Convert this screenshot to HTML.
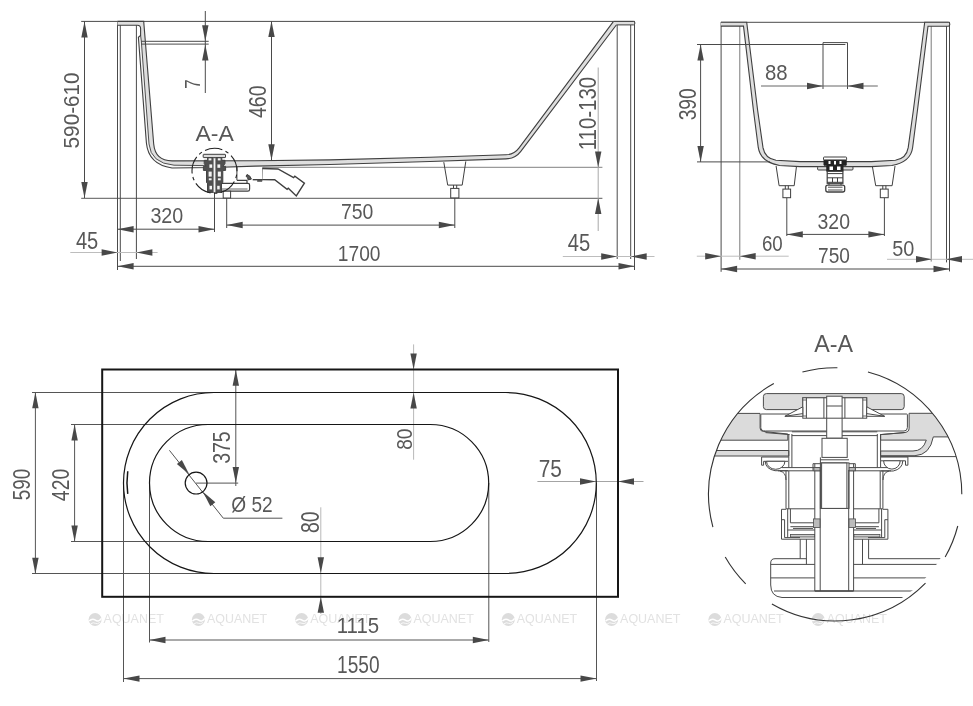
<!DOCTYPE html>
<html><head><meta charset="utf-8"><title>Bathtub drawing</title>
<style>
html,body{margin:0;padding:0;background:#fff;}
svg{display:block;filter:grayscale(1);}
text{font-family:"Liberation Sans",sans-serif;}
</style></head><body>
<svg width="973" height="706" viewBox="0 0 973 706">
<rect x="0" y="0" width="973" height="706" fill="#fff"/>
<circle cx="95.1" cy="619.5" r="6.5" fill="#dcdcdc"/>
<path d="M89.2,621.1 q3,-3.2 6.2,-0.9 t6,-1.9" stroke="#fff" stroke-width="1.5" fill="none"/>
<path d="M90.8,623.7 q2.6,-1.6 4.6,-0.4 t4.4,-0.9" stroke="#fff" stroke-width="0.8" fill="none"/>
<text transform="translate(103.60,622.77) scale(1.0183,1)" font-size="12.25" fill="#e2e2e2" >AQUANET</text>
<circle cx="198.4" cy="619.5" r="6.5" fill="#dcdcdc"/>
<path d="M192.5,621.1 q3,-3.2 6.2,-0.9 t6,-1.9" stroke="#fff" stroke-width="1.5" fill="none"/>
<path d="M194.1,623.7 q2.6,-1.6 4.6,-0.4 t4.4,-0.9" stroke="#fff" stroke-width="0.8" fill="none"/>
<text transform="translate(206.90,622.77) scale(1.0183,1)" font-size="12.25" fill="#e2e2e2" >AQUANET</text>
<circle cx="301.7" cy="619.5" r="6.5" fill="#dcdcdc"/>
<path d="M295.8,621.1 q3,-3.2 6.2,-0.9 t6,-1.9" stroke="#fff" stroke-width="1.5" fill="none"/>
<path d="M297.4,623.7 q2.6,-1.6 4.6,-0.4 t4.4,-0.9" stroke="#fff" stroke-width="0.8" fill="none"/>
<text transform="translate(310.20,622.77) scale(1.0183,1)" font-size="12.25" fill="#e2e2e2" >AQUANET</text>
<circle cx="405.0" cy="619.5" r="6.5" fill="#dcdcdc"/>
<path d="M399.1,621.1 q3,-3.2 6.2,-0.9 t6,-1.9" stroke="#fff" stroke-width="1.5" fill="none"/>
<path d="M400.7,623.7 q2.6,-1.6 4.6,-0.4 t4.4,-0.9" stroke="#fff" stroke-width="0.8" fill="none"/>
<text transform="translate(413.50,622.77) scale(1.0183,1)" font-size="12.25" fill="#e2e2e2" >AQUANET</text>
<circle cx="508.3" cy="619.5" r="6.5" fill="#dcdcdc"/>
<path d="M502.4,621.1 q3,-3.2 6.2,-0.9 t6,-1.9" stroke="#fff" stroke-width="1.5" fill="none"/>
<path d="M504.0,623.7 q2.6,-1.6 4.6,-0.4 t4.4,-0.9" stroke="#fff" stroke-width="0.8" fill="none"/>
<text transform="translate(516.80,622.77) scale(1.0183,1)" font-size="12.25" fill="#e2e2e2" >AQUANET</text>
<circle cx="611.6" cy="619.5" r="6.5" fill="#dcdcdc"/>
<path d="M605.7,621.1 q3,-3.2 6.2,-0.9 t6,-1.9" stroke="#fff" stroke-width="1.5" fill="none"/>
<path d="M607.3,623.7 q2.6,-1.6 4.6,-0.4 t4.4,-0.9" stroke="#fff" stroke-width="0.8" fill="none"/>
<text transform="translate(620.10,622.77) scale(1.0183,1)" font-size="12.25" fill="#e2e2e2" >AQUANET</text>
<circle cx="714.9" cy="619.5" r="6.5" fill="#dcdcdc"/>
<path d="M709.0,621.1 q3,-3.2 6.2,-0.9 t6,-1.9" stroke="#fff" stroke-width="1.5" fill="none"/>
<path d="M710.6,623.7 q2.6,-1.6 4.6,-0.4 t4.4,-0.9" stroke="#fff" stroke-width="0.8" fill="none"/>
<text transform="translate(723.40,622.77) scale(1.0183,1)" font-size="12.25" fill="#e2e2e2" >AQUANET</text>
<circle cx="818.2" cy="619.5" r="6.5" fill="#dcdcdc"/>
<path d="M812.3,621.1 q3,-3.2 6.2,-0.9 t6,-1.9" stroke="#fff" stroke-width="1.5" fill="none"/>
<path d="M813.9,623.7 q2.6,-1.6 4.6,-0.4 t4.4,-0.9" stroke="#fff" stroke-width="0.8" fill="none"/>
<text transform="translate(826.70,622.77) scale(1.0183,1)" font-size="12.25" fill="#e2e2e2" >AQUANET</text>
<line x1="81.20" y1="21.40" x2="634.90" y2="21.40" stroke="#4a4a4a" stroke-width="1" />
<line x1="81.20" y1="198.40" x2="602.40" y2="198.40" stroke="#7a7a7a" stroke-width="1.2" />
<line x1="263.00" y1="167.40" x2="602.40" y2="167.40" stroke="#9a9a9a" stroke-width="1.1" />
<line x1="84.50" y1="21.40" x2="84.50" y2="198.00" stroke="#4a4a4a" stroke-width="1" />
<polygon points="84.50,21.40 87.70,37.40 81.30,37.40" fill="#484848"/>
<polygon points="84.50,198.00 81.30,182.00 87.70,182.00" fill="#484848"/>
<line x1="117.50" y1="21.40" x2="117.50" y2="270.00" stroke="#4a4a4a" stroke-width="1" />
<line x1="120.30" y1="24.70" x2="120.30" y2="261.00" stroke="#4a4a4a" stroke-width="1" />
<line x1="136.40" y1="25.00" x2="136.40" y2="259.00" stroke="#4a4a4a" stroke-width="1" />
<line x1="617.20" y1="25.00" x2="617.20" y2="259.00" stroke="#4a4a4a" stroke-width="1" />
<line x1="630.70" y1="25.00" x2="630.70" y2="259.00" stroke="#4a4a4a" stroke-width="1" />
<line x1="634.50" y1="21.40" x2="634.50" y2="270.00" stroke="#4a4a4a" stroke-width="1" />
<line x1="205.30" y1="11.00" x2="205.30" y2="93.00" stroke="#4a4a4a" stroke-width="1" />
<polygon points="205.30,41.20 202.10,25.20 208.50,25.20" fill="#484848"/>
<polygon points="205.30,44.40 208.50,60.40 202.10,60.40" fill="#484848"/>
<line x1="271.50" y1="21.40" x2="271.50" y2="160.00" stroke="#4a4a4a" stroke-width="1" />
<polygon points="271.50,21.00 274.70,37.00 268.30,37.00" fill="#484848"/>
<polygon points="271.50,160.20 268.30,144.20 274.70,144.20" fill="#484848"/>
<line x1="598.20" y1="67.50" x2="598.20" y2="231.00" stroke="#a8a8a8" stroke-width="1" />
<polygon points="598.20,167.50 595.00,151.50 601.40,151.50" fill="#484848"/>
<polygon points="598.20,198.00 601.40,214.00 595.00,214.00" fill="#484848"/>
<line x1="117.60" y1="229.20" x2="214.50" y2="229.20" stroke="#4a4a4a" stroke-width="1" />
<polygon points="117.60,229.20 133.60,226.00 133.60,232.40" fill="#484848"/>
<polygon points="214.50,229.20 198.50,232.40 198.50,226.00" fill="#484848"/>
<line x1="214.50" y1="190.00" x2="214.50" y2="232.00" stroke="#4a4a4a" stroke-width="1" />
<line x1="226.70" y1="225.10" x2="454.80" y2="225.10" stroke="#6e6e6e" stroke-width="1.1" />
<polygon points="226.70,225.00 242.70,221.80 242.70,228.20" fill="#484848"/>
<polygon points="454.80,225.00 438.80,228.20 438.80,221.80" fill="#484848"/>
<line x1="226.70" y1="198.00" x2="226.70" y2="228.00" stroke="#4a4a4a" stroke-width="1" />
<line x1="454.80" y1="198.00" x2="454.80" y2="228.00" stroke="#4a4a4a" stroke-width="1" />
<line x1="70.30" y1="252.50" x2="157.60" y2="252.50" stroke="#bdbdbd" stroke-width="1" />
<polygon points="117.60,252.50 101.60,255.70 101.60,249.30" fill="#484848"/>
<polygon points="136.40,252.50 152.40,249.30 152.40,255.70" fill="#484848"/>
<line x1="117.60" y1="266.30" x2="634.50" y2="266.30" stroke="#4a4a4a" stroke-width="1" />
<polygon points="117.60,266.30 133.60,263.10 133.60,269.50" fill="#484848"/>
<polygon points="634.50,266.30 618.50,269.50 618.50,263.10" fill="#484848"/>
<line x1="562.80" y1="256.50" x2="654.50" y2="256.50" stroke="#bdbdbd" stroke-width="1" />
<polygon points="617.20,256.50 601.20,259.70 601.20,253.30" fill="#484848"/>
<polygon points="630.70,256.50 646.70,253.30 646.70,259.70" fill="#484848"/>
<path d="M613.5,21.4 H633.5 Q634.9,21.4 634.9,23 Q634.9,24.9 633.5,24.9 H616.3" stroke="#3f3f3f" stroke-width="1" fill="#dedede" />
<path d="M117.5,21.4 L143.7,21.4  L153.7,144 Q155.2,160.7 172,160.9 L255,160.7 L330,159.9 L430,157.3 L506,154.8 Q514.1,154.5 518.9,148.1 L613.5,21.4 L616.3,25 L520.8,151.3 Q515.4,158.5 506,158.9 L430,161.5 L330,164.5 L255,166.1 L214,167.5 L172,168 Q148.5,164.5 146.4,143 L138.4,37.3 L140.6,35.4 L140.6,28.5 Q140.6,25.2 137.4,25.2 L117.5,25.2 Z" stroke="none" stroke-width="0" fill="#dedede" />
<path d="M140.6,35.4 L138.4,37.3 L146.4,143 Q148.5,164.5 172,168 L208,167.6 L205,165.6 L174,165.2 Q150.8,163.2 149,144 L141.3,41 L140.6,35.4 Z" stroke="none" stroke-width="0" fill="#f6f6f6" />
<path d="M117.5,21.4 H143.7  L153.7,144 Q155.2,160.7 172,160.9 L255,160.7 L330,159.9 L430,157.3 L506,154.8 Q514.1,154.5 518.9,148.1 L613.5,21.4" stroke="#3f3f3f" stroke-width="1.1" fill="none" />
<path d="M117.5,25.2 L137.4,25.2 Q140.6,25.2 140.6,28.5 L140.6,35.4 L138.4,37.3 L146.4,143 Q148.5,164.5 172,168 L214,167.5 L255,166.1 L330,164.5 L430,161.5 L506,158.9 Q515.4,158.5 520.8,151.3 L616.3,25" stroke="#3f3f3f" stroke-width="1.1" fill="none" />
<path d="M140.6,35.4 L141.3,41 L149,144 Q150.8,163.2 174,165.2 L205,165.6" stroke="#3f3f3f" stroke-width="0.9" fill="none" />
<line x1="141.00" y1="41.30" x2="208.70" y2="41.30" stroke="#4a4a4a" stroke-width="1" />
<line x1="141.20" y1="44.10" x2="208.70" y2="44.10" stroke="#4a4a4a" stroke-width="1" />
<path d="M443.8,162.2 L447.7,185.1 H462.2 L465.8,161.4" stroke="#3f3f3f" stroke-width="1" fill="none" />
<path d="M453.5,185.1 V188.4 M456.7,185.1 V188.4" stroke="#3f3f3f" stroke-width="1" fill="none" />
<rect x="450.70" y="188.40" width="8.20" height="9.50" rx="0" stroke="#3f3f3f" stroke-width="1" fill="#fff"/>
<path d="M236.9,167 V180.5 M262.6,167.5 V179.7" stroke="#3f3f3f" stroke-width="1" fill="none" />
<path d="M262.4,179.6 L274.7,179.8 L287.1,189.3 L288.3,188.2 L296.3,195.9 L304.4,183.1 L294.8,176.3 L293.6,177.6 L278,169 L262.6,168.5" stroke="#3f3f3f" stroke-width="1.4" fill="#fff" />
<path d="M252.7,179.7 H262.6" stroke="#3f3f3f" stroke-width="1.4" fill="none" />
<path d="M247,174.5 q3.5,1 4.4,4.6 l-3.2,0.8 q-0.2,-2.6 -2.2,-3.6 z" stroke="#3f3f3f" stroke-width="1" fill="#555" />
<rect x="257.50" y="180.00" width="4.50" height="1.60" rx="0" stroke="#555" stroke-width="0.5" fill="#555"/>
<path d="M209.5,183.3 H247 V180.4 H237 M247,183.3 H248 Q249.6,183.3 249.6,185 V189.3 Q249.6,191.2 247.8,191.2 H209.5 Q207.6,191.2 207.6,189.3 V185 Q207.6,183.3 209.5,183.3 Z" stroke="#3f3f3f" stroke-width="1.2" fill="#fff" />
<path d="M209.5,189 H247.5" stroke="#3f3f3f" stroke-width="0.8" fill="none" />
<rect x="223.20" y="191.20" width="7.40" height="6.80" rx="0" stroke="#3f3f3f" stroke-width="1" fill="#fff"/>
<rect x="203.20" y="154.30" width="22.30" height="3.30" rx="0.5" stroke="#3f3f3f" stroke-width="1" fill="#dcdcdc"/>
<path d="M207.6,157.6 H221.8 V160.3 H225 V163.5 L223,166.4 H225.6 V170.4 H222.8 V182.6 H221.5 V192.4 H207.6 V182.6 H206.5 V170.4 H203.4 V166.4 H206 L204.2,163.5 V160.3 H207.6 Z" stroke="#444" stroke-width="1" fill="#505050" />
<rect x="208.60" y="158.30" width="2.80" height="2.10" rx="0" stroke="#fff" stroke-width="0" fill="#f4f4f4"/>
<rect x="217.80" y="158.30" width="2.80" height="2.10" rx="0" stroke="#fff" stroke-width="0" fill="#f4f4f4"/>
<rect x="209.40" y="164.40" width="2.80" height="3.40" rx="0" stroke="#fff" stroke-width="0" fill="#f4f4f4"/>
<rect x="217.40" y="164.40" width="2.80" height="3.40" rx="0" stroke="#fff" stroke-width="0" fill="#f4f4f4"/>
<rect x="208.60" y="171.60" width="3.10" height="5.00" rx="0" stroke="#fff" stroke-width="0" fill="#f4f4f4"/>
<rect x="217.80" y="171.60" width="3.10" height="5.00" rx="0" stroke="#fff" stroke-width="0" fill="#f4f4f4"/>
<rect x="208.80" y="178.30" width="2.80" height="2.00" rx="0" stroke="#fff" stroke-width="0" fill="#f4f4f4"/>
<rect x="217.90" y="178.30" width="2.80" height="2.00" rx="0" stroke="#fff" stroke-width="0" fill="#f4f4f4"/>
<rect x="209.50" y="185.80" width="2.50" height="3.60" rx="0" stroke="#fff" stroke-width="0" fill="#f4f4f4"/>
<rect x="217.20" y="185.80" width="2.50" height="3.60" rx="0" stroke="#fff" stroke-width="0" fill="#f4f4f4"/>
<rect x="213.30" y="158.00" width="2.40" height="34.30" rx="0" stroke="#777" stroke-width="0.6" fill="#f4f4f4"/>
<circle cx="214.5" cy="170.8" r="22.5" fill="none" stroke="#222" stroke-width="1.1" stroke-dasharray="17.7 3.5 3.5 3.5" stroke-dashoffset="-11"/>
<text transform="translate(78.67,148.40) rotate(-90) scale(0.9020,1)" font-size="22.96" fill="#58585a" >590-610</text>
<text transform="translate(200.00,88.65) rotate(-90) scale(0.7397,1)" font-size="22.90" fill="#58585a" >7</text>
<text transform="translate(265.87,118.05) rotate(-90) scale(0.8477,1)" font-size="23.10" fill="#58585a" >460</text>
<text transform="translate(195.40,140.90) scale(1.0465,1)" font-size="22.03" fill="#58585a" >A-A</text>
<text transform="translate(150.40,222.78) scale(0.8797,1)" font-size="22.39" fill="#58585a" >320</text>
<text transform="translate(75.90,249.47) scale(0.8628,1)" font-size="23.29" fill="#58585a" >45</text>
<text transform="translate(340.90,218.87) scale(0.8503,1)" font-size="22.82" fill="#58585a" >750</text>
<text transform="translate(337.80,260.87) scale(0.8411,1)" font-size="22.82" fill="#58585a" >1700</text>
<text transform="translate(595.86,150.35) rotate(-90) scale(0.8550,1)" font-size="23.94" fill="#58585a" >110-130</text>
<text transform="translate(567.70,250.77) scale(0.8613,1)" font-size="23.43" fill="#58585a" >45</text>
<line x1="720.90" y1="22.30" x2="949.80" y2="22.30" stroke="#4a4a4a" stroke-width="1" />
<line x1="721.10" y1="22.30" x2="721.10" y2="271.80" stroke="#4a4a4a" stroke-width="1" />
<line x1="739.80" y1="26.00" x2="739.80" y2="259.80" stroke="#7a7a7a" stroke-width="1" />
<line x1="931.20" y1="26.00" x2="931.20" y2="261.60" stroke="#7a7a7a" stroke-width="1" />
<line x1="946.50" y1="26.00" x2="946.50" y2="262.40" stroke="#4a4a4a" stroke-width="1" />
<line x1="949.50" y1="22.30" x2="949.50" y2="271.40" stroke="#4a4a4a" stroke-width="1" />
<line x1="700.60" y1="44.50" x2="700.60" y2="161.90" stroke="#4a4a4a" stroke-width="1" />
<polygon points="700.60,44.50 703.80,60.50 697.40,60.50" fill="#484848"/>
<polygon points="700.60,161.90 697.40,145.90 703.80,145.90" fill="#484848"/>
<path d="M823,89 V42.6 H847.5 V89" stroke="#4a4a4a" stroke-width="1" fill="none" />
<line x1="761.00" y1="86.00" x2="877.80" y2="86.00" stroke="#666" stroke-width="1" />
<polygon points="823.00,86.00 807.00,89.20 807.00,82.80" fill="#484848"/>
<polygon points="847.50,86.00 863.50,82.80 863.50,89.20" fill="#484848"/>
<line x1="786.80" y1="234.40" x2="884.40" y2="234.40" stroke="#4a4a4a" stroke-width="1" />
<polygon points="786.80,234.40 802.80,231.20 802.80,237.60" fill="#484848"/>
<polygon points="884.40,234.40 868.40,237.60 868.40,231.20" fill="#484848"/>
<line x1="786.80" y1="197.70" x2="786.80" y2="236.00" stroke="#4a4a4a" stroke-width="1" />
<line x1="884.40" y1="197.70" x2="884.40" y2="236.00" stroke="#4a4a4a" stroke-width="1" />
<line x1="696.80" y1="256.20" x2="788.70" y2="256.20" stroke="#bdbdbd" stroke-width="1" />
<polygon points="721.20,256.20 705.20,259.40 705.20,253.00" fill="#484848"/>
<polygon points="739.70,256.20 755.70,253.00 755.70,259.40" fill="#484848"/>
<line x1="721.10" y1="269.00" x2="949.50" y2="269.00" stroke="#4a4a4a" stroke-width="1" />
<polygon points="721.10,269.00 737.10,265.80 737.10,272.20" fill="#484848"/>
<polygon points="949.50,269.00 933.50,272.20 933.50,265.80" fill="#484848"/>
<line x1="887.00" y1="259.30" x2="973.00" y2="259.30" stroke="#bdbdbd" stroke-width="1" />
<polygon points="932.00,259.30 916.00,262.50 916.00,256.10" fill="#484848"/>
<polygon points="946.00,259.30 962.00,256.10 962.00,262.50" fill="#484848"/>
<path d="M776.1,166 L779.1,185.7 H794.2 L796.5,166" stroke="#3f3f3f" stroke-width="1" fill="#fff" />
<path d="M785.3,185.7 V189 M788.3,185.7 V189" stroke="#3f3f3f" stroke-width="1" fill="none" />
<rect x="782.90" y="189.10" width="7.70" height="8.60" rx="0" stroke="#3f3f3f" stroke-width="1" fill="#fff"/>
<path d="M872.3,166 L875.7,185.7 H892.1 L895,166" stroke="#3f3f3f" stroke-width="1" fill="#fff" />
<path d="M882.8,185.7 V189 M885.9,185.7 V189" stroke="#3f3f3f" stroke-width="1" fill="none" />
<rect x="880.30" y="189.10" width="7.90" height="8.60" rx="0" stroke="#3f3f3f" stroke-width="1" fill="#fff"/>
<path d="M720.9,22.3 L746.7,22.3  L757.6,110 L763,147.7 Q765,158.6 776,160.3 L800,161.6 L871.4,161.6 L895.4,160.3 Q906.4,158.6 908.2,147.7 L913.4,110 L924.7,22.3 L948.3,22.3 L948.3,22.3 Q949.8,22.3 949.8,24.2 Q949.8,26.2 948.3,26.2 L928,26.2 L917.5,110 L912.6,147.7 Q910.7,162 891.8,165.5 L871.4,166.6 L800,166.6 L779.6,165.5 Q760.5,162 758.3,147.7 L753.4,110 L743.5,26.1 L720.9,26.1 Z" stroke="none" stroke-width="0" fill="#dedede" />
<path d="M720.9,22.3 H746.7  L757.6,110 L763,147.7 Q765,158.6 776,160.3 L800,161.6 L871.4,161.6 L895.4,160.3 Q906.4,158.6 908.2,147.7 L913.4,110 L924.7,22.3 H948.3" stroke="#3f3f3f" stroke-width="1.1" fill="none" />
<path d="M720.9,26.1 L743.5,26.1 L753.4,110 L758.3,147.7 Q760.5,162 779.6,165.5 L800,166.6 L871.4,166.6 L891.8,165.5 Q910.7,162 912.6,147.7 L917.5,110 L928,26.2 L948.3,26.2 Q949.8,26.2 949.8,24.2 Q949.8,22.3 948.3,22.3" stroke="#3f3f3f" stroke-width="1.1" fill="none" />
<line x1="697.00" y1="44.50" x2="845.40" y2="44.50" stroke="#4a4a4a" stroke-width="1" />
<line x1="697.00" y1="161.90" x2="770.00" y2="161.90" stroke="#4a4a4a" stroke-width="1" />
<rect x="817.60" y="166.70" width="35.40" height="3.30" rx="1" stroke="#3f3f3f" stroke-width="1" fill="#dcdcdc"/>
<rect x="823.50" y="157.00" width="23.10" height="3.20" rx="0.8" stroke="#3f3f3f" stroke-width="1" fill="#fff"/>
<path d="M824,160.2 H846.2 V165.2 H843 V171.3 H826.8 V165.2 H824 Z" stroke="#222" stroke-width="1" fill="#222" />
<rect x="828.50" y="161.00" width="2.00" height="3.00" rx="0" stroke="#fff" stroke-width="0" fill="#fff"/>
<rect x="834.00" y="161.00" width="2.00" height="3.50" rx="0" stroke="#fff" stroke-width="0" fill="#fff"/>
<rect x="839.50" y="161.00" width="2.00" height="3.00" rx="0" stroke="#fff" stroke-width="0" fill="#fff"/>
<rect x="829.50" y="166.50" width="3.50" height="3.50" rx="0" stroke="#fff" stroke-width="0" fill="#fff"/>
<rect x="837.00" y="166.50" width="3.50" height="3.50" rx="0" stroke="#fff" stroke-width="0" fill="#fff"/>
<rect x="827.20" y="171.30" width="15.70" height="12.00" rx="0" stroke="#3f3f3f" stroke-width="1.2" fill="#fff"/>
<path d="M827.2,173.6 H842.9 M827.2,177.8 H842.9 M827.2,182.3 H842.9 M832.5,177.8 V182.3 M837.5,177.8 V182.3" stroke="#3f3f3f" stroke-width="1" fill="none" />
<rect x="825.80" y="185.10" width="18.90" height="6.90" rx="2" stroke="#3f3f3f" stroke-width="1.3" fill="#fff"/>
<path d="M828,187.2 H842.5 M828,190 H842.5" stroke="#3f3f3f" stroke-width="0.9" fill="none" />
<path d="M829,183.3 V185.1 M841,183.3 V185.1" stroke="#3f3f3f" stroke-width="1" fill="none" />
<text transform="translate(695.86,120.35) rotate(-90) scale(0.7959,1)" font-size="24.23" fill="#58585a" >390</text>
<text transform="translate(765.00,79.58) scale(0.9092,1)" font-size="22.39" fill="#58585a" >88</text>
<text transform="translate(817.50,228.87) scale(0.8529,1)" font-size="22.82" fill="#58585a" >320</text>
<text transform="translate(761.90,251.28) scale(0.8639,1)" font-size="21.69" fill="#58585a" >60</text>
<text transform="translate(818.10,262.58) scale(0.8750,1)" font-size="21.83" fill="#58585a" >750</text>
<text transform="translate(892.30,256.38) scale(0.8891,1)" font-size="22.39" fill="#58585a" >50</text>
<line x1="32.00" y1="392.50" x2="214.00" y2="392.50" stroke="#555" stroke-width="1" />
<line x1="32.00" y1="573.50" x2="214.00" y2="573.50" stroke="#555" stroke-width="1" />
<line x1="71.00" y1="424.50" x2="208.00" y2="424.50" stroke="#555" stroke-width="1" />
<line x1="71.00" y1="541.50" x2="208.00" y2="541.50" stroke="#555" stroke-width="1" />
<line x1="35.40" y1="392.50" x2="35.40" y2="573.50" stroke="#555" stroke-width="1" />
<polygon points="35.40,392.30 38.60,408.30 32.20,408.30" fill="#484848"/>
<polygon points="35.40,573.70 32.20,557.70 38.60,557.70" fill="#484848"/>
<line x1="74.60" y1="424.40" x2="74.60" y2="541.40" stroke="#555" stroke-width="1" />
<polygon points="74.60,424.40 77.80,440.40 71.40,440.40" fill="#484848"/>
<polygon points="74.60,541.40 71.40,525.40 77.80,525.40" fill="#484848"/>
<line x1="235.80" y1="369.50" x2="235.80" y2="486.00" stroke="#555" stroke-width="1" />
<polygon points="235.80,369.70 239.00,385.70 232.60,385.70" fill="#484848"/>
<polygon points="235.80,483.10 232.60,467.10 239.00,467.10" fill="#484848"/>
<line x1="196.10" y1="483.10" x2="238.20" y2="483.10" stroke="#555" stroke-width="1" />
<path d="M169.4,450.3 L223.3,518.2 H282.4" stroke="#555" stroke-width="1" fill="none" />
<polygon points="189.32,474.56 176.87,464.02 181.88,460.04" fill="#484848"/>
<polygon points="202.88,491.64 215.33,502.18 210.32,506.16" fill="#484848"/>
<line x1="413.60" y1="344.40" x2="413.60" y2="459.70" stroke="#b0b0b0" stroke-width="0.9" />
<polygon points="413.60,369.50 410.40,353.50 416.80,353.50" fill="#484848"/>
<polygon points="413.60,392.50 416.80,408.50 410.40,408.50" fill="#484848"/>
<line x1="320.80" y1="507.30" x2="320.80" y2="614.00" stroke="#b0b0b0" stroke-width="0.9" />
<polygon points="320.80,573.30 317.60,557.30 324.00,557.30" fill="#484848"/>
<polygon points="320.80,596.80 324.00,612.80 317.60,612.80" fill="#484848"/>
<line x1="537.40" y1="481.50" x2="643.50" y2="481.50" stroke="#9a9a9a" stroke-width="0.9" />
<polygon points="596.00,481.50 580.00,484.70 580.00,478.30" fill="#484848"/>
<polygon points="618.00,481.50 634.00,478.30 634.00,484.70" fill="#484848"/>
<line x1="123.50" y1="483.00" x2="123.50" y2="682.00" stroke="#555" stroke-width="1" />
<line x1="149.50" y1="483.00" x2="149.50" y2="642.50" stroke="#555" stroke-width="1" />
<line x1="488.80" y1="483.00" x2="488.80" y2="642.00" stroke="#555" stroke-width="1" />
<line x1="596.50" y1="483.00" x2="596.50" y2="681.00" stroke="#555" stroke-width="1" />
<line x1="149.50" y1="640.00" x2="488.80" y2="640.00" stroke="#555" stroke-width="1" />
<polygon points="149.50,640.00 165.50,636.80 165.50,643.20" fill="#484848"/>
<polygon points="488.80,640.00 472.80,643.20 472.80,636.80" fill="#484848"/>
<line x1="123.50" y1="678.60" x2="596.50" y2="678.60" stroke="#555" stroke-width="1" />
<polygon points="123.50,678.60 139.50,675.40 139.50,681.80" fill="#484848"/>
<polygon points="596.50,678.60 580.50,681.80 580.50,675.40" fill="#484848"/>
<rect x="102.20" y="369.50" width="515.80" height="227.30" rx="0" stroke="#161616" stroke-width="2" fill="none"/>
<rect x="123.5" y="392.5" width="472.8" height="181" rx="90.5" fill="none" stroke="#161616" stroke-width="1.2"/>
<rect x="149.5" y="424.5" width="339.2" height="117" rx="58.5" fill="none" stroke="#161616" stroke-width="1.2"/>
<circle cx="196.1" cy="483.1" r="10.9" fill="none" stroke="#161616" stroke-width="1.2"/>
<path d="M127.74,493.96 A87,87 0 0 1 127.74,471.24" stroke="#161616" stroke-width="1.5" fill="none" />
<text transform="translate(29.86,500.15) rotate(-90) scale(0.7994,1)" font-size="23.52" fill="#58585a" >590</text>
<text transform="translate(69.07,501.15) rotate(-90) scale(0.8298,1)" font-size="23.38" fill="#58585a" >420</text>
<text transform="translate(230.36,463.85) rotate(-90) scale(0.8058,1)" font-size="24.23" fill="#58585a" >375</text>
<text transform="translate(231.30,511.77) scale(0.8466,1)" font-size="22.54" fill="#58585a" >Ø 52</text>
<text transform="translate(411.87,449.80) rotate(-90) scale(0.8462,1)" font-size="22.68" fill="#58585a" >80</text>
<text transform="translate(318.65,532.95) rotate(-90) scale(0.7806,1)" font-size="24.93" fill="#58585a" >80</text>
<text transform="translate(538.70,476.67) scale(0.8992,1)" font-size="23.14" fill="#58585a" >75</text>
<text transform="translate(336.70,632.77) scale(0.8996,1)" font-size="22.71" fill="#58585a" >1115</text>
<text transform="translate(337.10,672.77) scale(0.8269,1)" font-size="23.10" fill="#58585a" >1550</text>
<text transform="translate(814.20,352.30) scale(0.9741,1)" font-size="23.91" fill="#58585a" >A-A</text>
<clipPath id="dc"><circle cx="835.2" cy="494.3" r="126.6"/></clipPath>
<g clip-path="url(#dc)">
<path d="M700,413.4 H760.1 V428 Q760.1,431.3 763.5,431.5 L787.8,434 V440.2 H700 Z" stroke="#4a4a4a" stroke-width="1" fill="#dbdbdb" />
<path d="M700,450.5 H788.8 V456 H700 Z" stroke="#4a4a4a" stroke-width="1" fill="#dbdbdb" />
<path d="M970,413.3 H909.1 V428.3 Q909.1,432.3 904,432.6 L880.6,434.6 V440.1 H926.3 Q923,451 913,451 H880.6 V455.7 H915 Q930,455 933.3,436.9 H970 Z" stroke="#4a4a4a" stroke-width="1" fill="#dbdbdb" />
<line x1="880.60" y1="456.60" x2="970.00" y2="456.60" stroke="#4a4a4a" stroke-width="1" />
<rect x="763.40" y="393.60" width="140.80" height="16.00" rx="3" stroke="#4a4a4a" stroke-width="1" fill="#dbdbdb"/>
<rect x="802.80" y="397.80" width="63.90" height="20.40" rx="0" stroke="#4a4a4a" stroke-width="1" fill="#fff"/>
<path d="M761.6,414 H906.6 Q907.4,414 907.4,414.8 V427.5 Q907.4,431 904,431 H765.5 Q760.8,431 760.8,427.5 V414.8 Q760.8,414 761.6,414 Z" stroke="#4a4a4a" stroke-width="1" fill="#fff" />
<path d="M765.5,432.6 L789.5,434.6 M904.5,432.6 L880.5,434.6" stroke="#4a4a4a" stroke-width="1" fill="none" />
<rect x="802.80" y="397.80" width="63.90" height="20.40" rx="0" stroke="#4a4a4a" stroke-width="1" fill="#fff"/>
<path d="M806.4,397.8 V418.2 M862.8,397.8 V418.2 M823.9,397.8 V418.2 M844.9,397.8 V418.2" stroke="#4a4a4a" stroke-width="1" fill="none" />
<path d="M802.8,400 H806.4 M862.8,400 H866.7 M802.8,416 H806.4 M862.8,416 H866.7" stroke="#4a4a4a" stroke-width="0.8" fill="none" />
<path d="M784.9,416.3 L802.8,406.8 V416.3 Z M784.9,416.3 L802.8,413.6" stroke="#4a4a4a" stroke-width="1" fill="#fff" />
<path d="M884.6,416.3 L866.7,406.8 V416.3 Z M884.6,416.3 L866.7,413.6" stroke="#4a4a4a" stroke-width="1" fill="#fff" />
<path d="M788.8,434 V467.6 M791.9,434 V467.6 M877.3,434 V467.6 M880.6,434 V467.6" stroke="#4a4a4a" stroke-width="1" fill="none" />
<path d="M791.9,431.8 H877.3 M791.9,435.6 H877.3" stroke="#4a4a4a" stroke-width="1" fill="none" />
<rect x="826.70" y="396.20" width="15.40" height="42.00" rx="0" stroke="#4a4a4a" stroke-width="1" fill="#fff"/>
<path d="M826.7,406 H842.1 M826.7,418.2 H842.1" stroke="#4a4a4a" stroke-width="1" fill="none" />
<rect x="822.00" y="438.30" width="25.20" height="19.10" rx="0" stroke="#4a4a4a" stroke-width="1" fill="#fff"/>
<path d="M820.4,459.8 H849 M820.4,457.4 V463" stroke="#4a4a4a" stroke-width="1" fill="none" />
<path d="M761.6,457 H788.8 M761.6,457 V465.2 H763.6 V461.3 H788" stroke="#4a4a4a" stroke-width="1" fill="none" />
<path d="M766.5,461.3 A9.2,8 0 0 0 784.9,461.3 Z" stroke="#4a4a4a" stroke-width="1" fill="#fff" />
<path d="M765.2,461.3 Q765.5,469 775,470.7 H788" stroke="#4a4a4a" stroke-width="1" fill="none" />
<path d="M907.9,457 H880.6 M907.9,457 V465.2 H905.5 V460.8 H881" stroke="#4a4a4a" stroke-width="1" fill="none" />
<path d="M883.6,460.8 A8.3,8.3 0 0 0 900.2,460.8 Z" stroke="#4a4a4a" stroke-width="1" fill="#fff" />
<path d="M902.8,460.8 Q902.5,469 893.2,471 H881" stroke="#4a4a4a" stroke-width="1" fill="none" />
<path d="M781.8,467.6 H887.7 M778,470.8 H891" stroke="#4a4a4a" stroke-width="1" fill="none" />
<path d="M786,470.8 V508.8 M788.8,470.8 V508.8 M880.2,470.8 V508.8 M882.9,470.8 V508.8" stroke="#4a4a4a" stroke-width="1" fill="none" />
<path d="M786,480 Q786.2,472.5 780,471 M883,480 Q883,472.5 889,471" stroke="#4a4a4a" stroke-width="1" fill="none" />
<rect x="820.40" y="462.90" width="28.60" height="45.50" rx="0" stroke="#4a4a4a" stroke-width="1" fill="#fff"/>
<path d="M814.8,463.7 V591 M820.2,470 V591 M848.7,470 V591 M853.6,463.7 V591" stroke="#4a4a4a" stroke-width="1" fill="none" />
<path d="M813,463.7 H820.4 M849,463.7 H855.3 M813,463.7 V470.8 M855.3,463.7 V470.8" stroke="#4a4a4a" stroke-width="1" fill="none" />
<rect x="813.90" y="467.60" width="6.10" height="3.20" rx="0" stroke="#4a4a4a" stroke-width="0.8" fill="#bbb"/>
<rect x="849.20" y="467.60" width="6.00" height="3.20" rx="0" stroke="#4a4a4a" stroke-width="0.8" fill="#bbb"/>
<rect x="821.60" y="463.00" width="25.30" height="45.40" rx="0" stroke="#4a4a4a" stroke-width="1" fill="#fff"/>
<path d="M786,508.8 H814.8 M853.6,508.8 H882.9" stroke="#4a4a4a" stroke-width="1" fill="none" />
<path d="M781.5,509.3 H786 M781.5,509.3 V539.2 H814.8 M784.6,519.7 V537.6 H800 M781.5,519.7 H784.6" stroke="#4a4a4a" stroke-width="1" fill="none" />
<path d="M887.9,509.3 H882.9 M887.9,509.3 V539.2 H853.6 M884.8,519.7 V537.6 H868 M887.9,519.7 H884.8" stroke="#4a4a4a" stroke-width="1" fill="none" />
<path d="M787.7,508.8 V537.6 M790.4,508.8 V522.8 H814.8 M790.4,526.7 H814.8 M793,528.4 H813 M787.7,530 H814.8" stroke="#4a4a4a" stroke-width="1" fill="none" />
<path d="M881.6,508.8 V537.6 M878.9,508.8 V522.8 H853.6 M878.9,526.7 H853.6 M876,528.4 H856 M881.6,530 H853.6" stroke="#4a4a4a" stroke-width="1" fill="none" />
<rect x="813.60" y="518.90" width="6.40" height="8.60" rx="0" stroke="#4a4a4a" stroke-width="0.8" fill="#bbb"/>
<rect x="849.00" y="518.90" width="6.40" height="8.60" rx="0" stroke="#4a4a4a" stroke-width="0.8" fill="#bbb"/>
<rect x="790.40" y="534.50" width="24.20" height="2.50" rx="0" stroke="#4a4a4a" stroke-width="0.8" fill="#ccc"/>
<rect x="854.00" y="534.50" width="25.90" height="2.50" rx="0" stroke="#4a4a4a" stroke-width="0.8" fill="#ccc"/>
</g>
<clipPath id="dc2"><circle cx="835.2" cy="494.3" r="123.3"/></clipPath>
<g clip-path="url(#dc2)">
<path d="M800.2,539.2 V558.7 M806.4,539.2 V564.4 M862.5,539.2 V564.4 M868.6,539.2 V558.7" stroke="#4a4a4a" stroke-width="1" fill="none" />
<path d="M806.4,558.7 H775 Q770.7,558.7 770.7,563 V585 Q770.7,596.5 782,597.5 H960" stroke="#4a4a4a" stroke-width="1" fill="none" />
<path d="M868.6,558.7 H970 M770.7,564.4 H814.8 M853.6,564.4 H970 M770.7,577.9 H814.8 M853.6,577.9 H970 M774,591 H970" stroke="#4a4a4a" stroke-width="1" fill="none" />
<path d="M814.8,591 H853.6" stroke="#4a4a4a" stroke-width="1.6" fill="none" />
</g>
<path d="M867.97,372.01 A126.6,126.6 0 0 1 961.80,494.30" stroke="#333" stroke-width="1.1" fill="none" />
<path d="M957.77,526.00 A126.6,126.6 0 0 1 945.17,557.03" stroke="#333" stroke-width="1.1" fill="none" />
<path d="M925.50,583.04 A126.6,126.6 0 0 1 771.90,603.94" stroke="#333" stroke-width="1.1" fill="none" />
<path d="M745.68,583.82 A126.6,126.6 0 0 1 725.23,557.03" stroke="#333" stroke-width="1.1" fill="none" />
<path d="M712.91,527.07 A126.6,126.6 0 0 1 773.82,383.57" stroke="#333" stroke-width="1.1" fill="none" />
<path d="M802.43,372.01 A126.6,126.6 0 0 1 837.41,367.72" stroke="#333" stroke-width="1.1" fill="none" />
</svg>
</body></html>
